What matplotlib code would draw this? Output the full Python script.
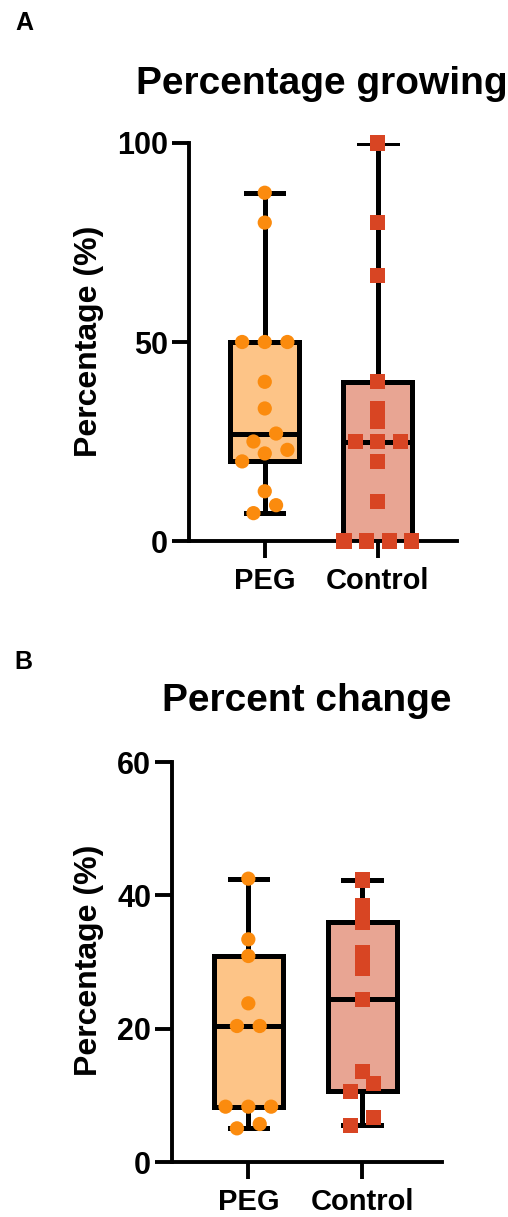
import numpy as np
import matplotlib
matplotlib.use("Agg")
import matplotlib.pyplot as plt

plt.rcParams['font.family'] = ['Liberation Sans', 'DejaVu Sans']
plt.rcParams['font.weight'] = 'bold'

# data
grupper = ["PEG", "Control"]
peg_vekst = [87.5, 80, 50, 50, 50, 40, 33.3, 27, 25, 22.9, 22, 20, 12.5, 9, 7]
kontroll_vekst = [100, 80, 66.7, 40, 33.3, 30, 25, 25, 25, 20, 10, 0, 0, 0, 0]
peg_endring = [42.5, 33.4, 30.9, 23.8, 20.4, 20.4, 8.3, 8.3, 8.3, 5.7, 5.05]
kontroll_endring = [42.3, 38.4, 36.0, 31.4, 29.1, 24.4, 13.6, 11.8, 10.6, 6.7, 5.5]

fyll = ["#FDC487", "#E8A593"]
punktfarge = ["#FB8B0E", "#D84523"]
markorer = ["o", "s"]

W, H = 508, 1217
fig = plt.figure(figsize=(W / 100, H / 100), dpi=100)


def boksstat(verdier):
    v = np.asarray(verdier, dtype=float)
    q1, med, q3 = np.percentile(v, [25, 50, 75], method="weibull")
    return dict(med=med, q1=q1, q3=q3, whislo=v.min(), whishi=v.max(), fliers=[])


def sverm(ax, verdier, pos, terskel=12, steg=0.2):
    # samler punkter som ligger tett i piksler og sprer dem sidelengs
    v = np.asarray(verdier, dtype=float)
    ypix = ax.transData.transform(np.column_stack([np.full(len(v), pos), v]))[:, 1]
    rekke = np.argsort(-ypix, kind="stable")
    forskyv = np.zeros(len(v))
    i = 0
    while i < len(rekke):
        start = ypix[rekke[i]]
        gruppe = [rekke[i]]
        j = i + 1
        while j < len(rekke) and start - ypix[rekke[j]] < terskel:
            gruppe.append(rekke[j])
            j += 1
        gruppe = sorted(gruppe, key=lambda k: v[k])
        n = len(gruppe)
        for m, k in enumerate(gruppe):
            forskyv[k] = (m - (n - 1) / 2) * steg
        i = j
    return pos + forskyv


def panel(rect, serier, ymax, yticks):
    ax = fig.add_axes(rect)
    stat = [boksstat(s) for s in serier]
    b = ax.bxp(stat, positions=[1, 2], widths=0.61, patch_artist=True,
               showfliers=False, capwidths=0.33, manage_ticks=False,
               boxprops=dict(edgecolor="black", linewidth=3.6),
               whiskerprops=dict(color="black", linewidth=3.6),
               capprops=dict(color="black", linewidth=3.6),
               medianprops=dict(color="black", linewidth=3.6))
    for i, boks in enumerate(b["boxes"]):
        boks.set_facecolor(fyll[i])
        boks.set_zorder(2)

    ax.set_xlim(0.33, 2.70)
    ax.set_ylim(0, ymax)
    for s in ["top", "right"]:
        ax.spines[s].set_visible(False)
    for s in ["left", "bottom"]:
        ax.spines[s].set_linewidth(2.8)
    ax.set_yticks(yticks)
    ax.set_xticks([1, 2])
    ax.set_xticklabels(grupper)
    ax.tick_params(axis="both", width=2.8, length=12, labelsize=22)
    ax.tick_params(axis="y", pad=3)
    ax.tick_params(axis="x", pad=7, labelsize=21)

    for i, s in enumerate(serier):
        x = sverm(ax, s, i + 1)
        ax.scatter(x, s, s=105 if markorer[i] == "o" else 120, marker=markorer[i],
                   color=punktfarge[i], edgecolors="none", zorder=4, clip_on=False)
    return ax


# panel A
panel([189 / W, 1 - 541 / H, 268 / W, 398 / H], [peg_vekst, kontroll_vekst], 100, [0, 50, 100])
# panel B
panel([172 / W, 1 - 1162 / H, 270 / W, 400 / H], [peg_endring, kontroll_endring], 60, [0, 20, 40, 60])

fig.text(24 / W, 1 - 23 / H, "A", ha="center", va="center", fontsize=18)
fig.text(23 / W, 1 - 662 / H, "B", ha="center", va="center", fontsize=18)
fig.text(322 / W, 1 - 94 / H, "Percentage growing", ha="center", va="baseline", fontsize=28)
fig.text(307 / W, 1 - 711 / H, "Percent change", ha="center", va="baseline", fontsize=28)
fig.text(89 / W, 1 - 341 / H, "Percentage (%)", ha="center", va="center", rotation=90, fontsize=23)
fig.text(89 / W, 1 - 960 / H, "Percentage (%)", ha="center", va="center", rotation=90, fontsize=23)

fig.savefig("out.png", dpi=100)
